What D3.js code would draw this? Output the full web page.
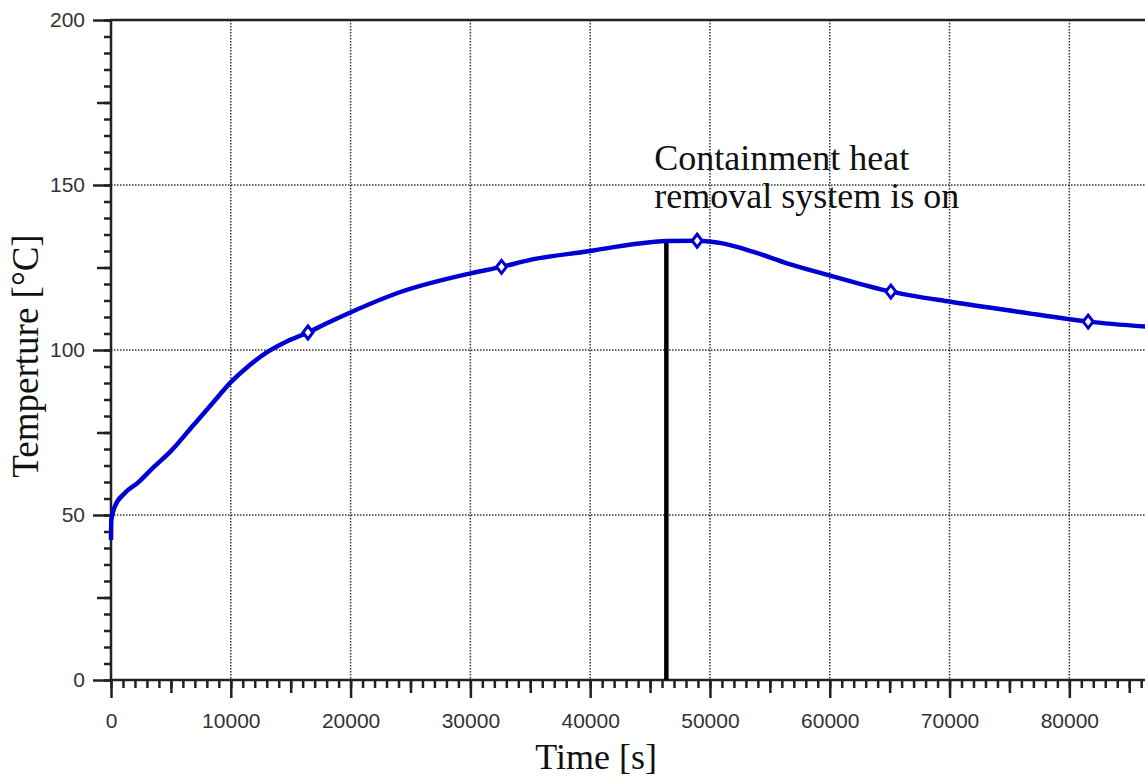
<!DOCTYPE html>
<meta charset="utf-8">
<style>
  body { margin: 0; background: #fff; }
  .tick text { font-family: "Liberation Sans", Arial, sans-serif; font-size: 21px; fill: #333; }
  .domain { display: none; }
  .tick line { stroke: #222; stroke-width: 2.5px; }
  .grid line { stroke: #333; stroke-width: 1.5px; stroke-dasharray: 1.5, 1.5; }
  .line { fill: none; stroke: #0000d2; stroke-width: 4.5px; stroke-linejoin: round; }
  .title { font-family: "Liberation Serif", "Times New Roman", serif; font-size: 36px; fill: #111; }
</style>

<body>
  <script src="https://d3js.org/d3.v7.min.js"></script>
  <script>
    // curve: time [s] and temperature [°C]
    var time = [0, 30, 310, 1140, 2250, 3500, 5040, 6710, 8380, 10050, 11440, 13100, 14500, 16440, 17840,
      19930, 24100, 30100, 32600, 35000, 40000, 43720, 46360, 48930, 51050, 53570, 56500, 59900,
      65100, 70060, 75700, 81570, 86400];
    var temp = [42.4, 48.5, 52.5, 56.6, 59.8, 64.3, 69.5, 76.5, 83.5, 90.4, 95.0, 99.5, 102.3, 105.3, 107.8,
      111.3, 117.5, 123.3, 125.2, 127.3, 130.0, 132.1, 133.0, 133.1, 132.3, 129.8, 126.2, 122.7,
      117.7, 114.6, 111.6, 108.6, 107.1];
    // hollow diamond markers on the curve
    var markerTime = [16440, 32600, 48930, 65100, 81570];
    var markerTemp = [105.3, 125.2, 133.1, 117.7, 108.6];
    // switch-on of the containment heat removal system
    var eventTime = 46360;
    var eventTemp = 133.0;
    var noteLines = ["Containment heat", "removal system is on"];

    var xMajor = d3.range(0, 86401, 10000);
    var xMid = d3.range(5000, 86401, 10000);
    var xMinor = d3.range(0, 86401, 1000);
    var yMajor = [0, 50, 100, 150, 200];
    var yMid = [25, 75, 125, 175];
    var yMinor = d3.range(0, 201, 5);

    var margin = { top: 20, right: 0, bottom: 100, left: 111 },
      width = 1035,
      height = 660;

    var x = d3.scaleLinear().domain([0, 86400]).range([0, width]);
    var y = d3.scaleLinear().domain([0, 200]).range([height, 0]);

    var svg = d3.select("body").append("svg")
      .attr("width", 1145)
      .attr("height", 780)
      .append("g")
      .attr("transform", "translate(" + margin.left + "," + margin.top + ")");

    // dotted grid
    svg.append("g").attr("class", "grid")
      .selectAll("line").data(xMajor.filter(function(d) { return d > 0; }))
      .enter().append("line")
      .attr("x1", function(d) { return x(d); }).attr("x2", function(d) { return x(d); })
      .attr("y1", 0).attr("y2", height);
    svg.append("g").attr("class", "grid")
      .selectAll("line").data(yMajor.filter(function(d) { return d > 0 && d < 200; }))
      .enter().append("line")
      .attr("x1", 0).attr("x2", width)
      .attr("y1", function(d) { return y(d); }).attr("y2", function(d) { return y(d); });

    // frame: left, bottom, top
    svg.append("path")
      .attr("d", "M" + x(0) + "," + y(0) + "H" + width + "M" + x(0) + "," + y(0) + "V" + y(200) + "H" + width)
      .attr("fill", "none").attr("stroke", "#222").attr("stroke-width", 2.5);

    // x ticks
    svg.append("g").attr("transform", "translate(0," + height + ")")
      .call(d3.axisBottom(x).tickValues(xMinor).tickSize(8).tickFormat(""));
    svg.append("g").attr("transform", "translate(0," + height + ")")
      .call(d3.axisBottom(x).tickValues(xMid).tickSize(13).tickFormat(""));
    svg.append("g").attr("transform", "translate(0," + height + ")")
      .call(d3.axisBottom(x).tickValues(xMajor).tickSize(18).tickPadding(11).tickFormat(d3.format("d")))
      .selectAll("text").attr("dy", "0.9em");

    // y ticks
    svg.append("g")
      .call(d3.axisLeft(y).tickValues(yMinor).tickSize(7).tickFormat(""));
    svg.append("g")
      .call(d3.axisLeft(y).tickValues(yMid).tickSize(14).tickFormat(""));
    svg.append("g")
      .call(d3.axisLeft(y).tickValues(yMajor).tickSize(18).tickPadding(8).tickFormat(d3.format("d")));

    // event marker line
    svg.append("line")
      .attr("x1", x(eventTime)).attr("x2", x(eventTime))
      .attr("y1", y(0)).attr("y2", y(eventTemp))
      .attr("stroke", "#000").attr("stroke-width", 4.5);

    // temperature curve
    var pts = time.map(function(t, i) { return [t, temp[i]]; });
    var line = d3.line()
      .x(function(d) { return x(d[0]); })
      .y(function(d) { return y(d[1]); })
      .curve(d3.curveMonotoneX);
    svg.append("path").datum(pts).attr("class", "line").attr("d", line);

    // markers
    svg.selectAll(".marker").data(markerTime)
      .enter().append("path")
      .attr("class", "marker")
      .attr("transform", function(d, i) { return "translate(" + x(d) + "," + y(markerTemp[i]) + ")"; })
      .attr("d", "M0,-6.5L5,0L0,6.5L-5,0Z")
      .attr("fill", "#fff").attr("stroke", "#0000d2").attr("stroke-width", 3);

    // annotation
    svg.selectAll(".note").data(noteLines)
      .enter().append("text")
      .attr("class", "title")
      .attr("x", x(eventTime) - 12)
      .attr("y", function(d, i) { return 150 + i * 38; })
      .text(function(d) { return d; });

    // axis titles
    svg.append("text").attr("class", "title")
      .attr("x", x(40500)).attr("y", 749)
      .attr("text-anchor", "middle")
      .text("Time [s]");
    svg.append("text").attr("class", "title")
      .attr("style", "font-size:37px")
      .attr("transform", "translate(-73," + (y(100) + 6) + ") rotate(-90)")
      .attr("text-anchor", "middle")
      .text("Temperture [°C]");
  </script>
</body>
